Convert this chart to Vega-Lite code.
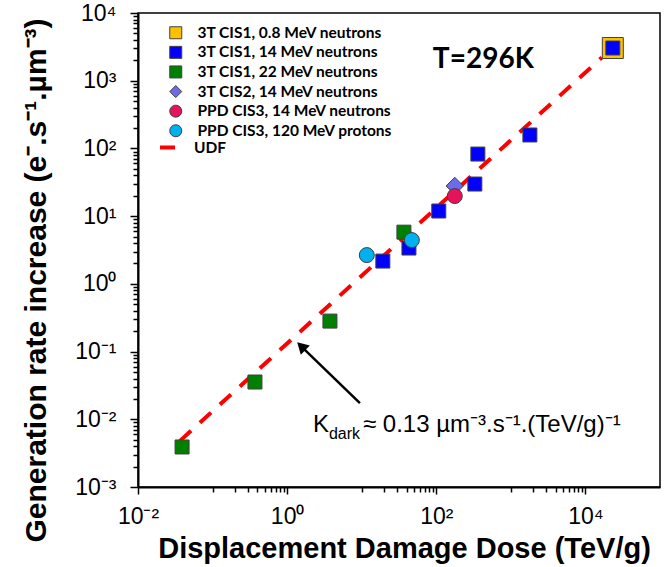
{
  "$schema": "https://vega.github.io/schema/vega-lite/v6.json",
  "width": 522,
  "height": 474,
  "autosize": {"type": "none"},
  "padding": {"left": 138, "top": 13, "right": 6, "bottom": 80},
  "background": "white",
  "config": {
    "font": "Liberation Sans",
    "view": {"stroke": "#000", "strokeWidth": 1.5},
    "axis": {"domainColor": "#000", "domainWidth": 2, "tickColor": "#000", "tickWidth": 1.5, "grid": false, "labelColor": "#000", "titleColor": "#000", "labelFont": "Liberation Sans", "titleFont": "Liberation Sans"}
  },
  "datasets": {
    "udf": [
      {"name": "UDF", "dose": 0.0365, "rate": 0.0048},
      {"name": "UDF", "dose": 16600, "rate": 2200}
    ],
    "pts": [
      {"series": "3T CIS1, 0.8 MeV neutrons", "dose": 23300, "rate": 3040},
      {"series": "3T CIS1, 14 MeV neutrons", "dose": 23300, "rate": 3040},
      {"series": "3T CIS1, 14 MeV neutrons", "dose": 1800, "rate": 158},
      {"series": "3T CIS1, 14 MeV neutrons", "dose": 361, "rate": 82.6},
      {"series": "3T CIS1, 14 MeV neutrons", "dose": 329, "rate": 29.8},
      {"series": "3T CIS1, 14 MeV neutrons", "dose": 108, "rate": 11.9},
      {"series": "3T CIS1, 14 MeV neutrons", "dose": 43, "rate": 3.38},
      {"series": "3T CIS1, 14 MeV neutrons", "dose": 19.2, "rate": 2.17},
      {"series": "3T CIS1, 22 MeV neutrons", "dose": 36.8, "rate": 5.8},
      {"series": "3T CIS1, 22 MeV neutrons", "dose": 3.75, "rate": 0.282},
      {"series": "3T CIS1, 22 MeV neutrons", "dose": 0.37, "rate": 0.0355},
      {"series": "3T CIS1, 22 MeV neutrons", "dose": 0.039, "rate": 0.0039},
      {"series": "3T CIS2, 14 MeV neutrons", "dose": 177, "rate": 27.9},
      {"series": "PPD CIS3, 14 MeV neutrons", "dose": 177, "rate": 19.8},
      {"series": "PPD CIS3, 120 MeV protons", "dose": 11.7, "rate": 2.66},
      {"series": "PPD CIS3, 120 MeV protons", "dose": 47, "rate": 4.43}
    ],
    "arrow": [
      {"dose": 9.46, "rate": 0.0173, "dose2": 1.546, "rate2": 0.1197}
    ],
    "head": [
      {"dose": 1.546, "rate": 0.1197}
    ],
    "temp": [
      {"dose": 90, "rate": 1540, "label": "T=296K"}
    ],
    "kdark": [
      {"dose": 2.22, "rate": 0.00647, "k": "K", "sub": "dark", "rest": "≈ 0.13 µm⁻³.s⁻¹.(TeV/g)⁻¹"}
    ]
  },
  "layer": [
    {
      "data": {"name": "udf"},
      "mark": {"type": "line", "color": "#FF0000", "strokeWidth": 4, "strokeCap": "butt"},
      "encoding": {
        "x": {
          "field": "dose", "type": "quantitative",
          "scale": {"type": "log", "domain": [0.01, 100000], "nice": false},
          "axis": {
            "title": "Displacement Damage Dose (TeV/g)",
            "titleFontSize": 29, "titleFontWeight": "bold",
            "titleX": 266, "titleY": 70, "titleBaseline": "alphabetic",
            "labelFontSize": 23, "labelPadding": 11,
            "labelFlush": false, "labelOverlap": false, "labelBound": false,
            "values": [0.01, 0.1, 0.2, 0.3, 0.4, 0.5, 0.6, 0.7, 0.8, 0.9, 1, 10, 20, 30, 40, 50, 60, 70, 80, 90, 100, 1000, 2000, 3000, 4000, 5000, 6000, 7000, 8000, 9000, 10000],
            "tickSize": {"condition": {"test": "datum.value == 0.01 || datum.value == 1 || datum.value == 100 || datum.value == 10000", "value": 7}, "value": 5},
            "labelExpr": "datum.value == 0.01 ? '10⁻²' : datum.value == 1 ? '10⁰' : datum.value == 100 ? '10²' : datum.value == 10000 ? '10⁴' : ''"
          }
        },
        "y": {
          "field": "rate", "type": "quantitative",
          "scale": {"type": "log", "domain": [0.001, 10000], "nice": false},
          "axis": {
            "title": "Generation rate increase (e⁻.s⁻¹.µm⁻³)",
            "titleFontSize": 30, "titleFontWeight": "bold",
            "titleX": -93, "titleY": 267, "titleBaseline": "alphabetic", "titleAngle": 270,
            "labelFontSize": 23, "labelPadding": 14,
            "labelOverlap": false, "labelBound": false, "labelFlush": false,
            "values": [0.001, 0.002, 0.003, 0.004, 0.005, 0.006, 0.007, 0.008, 0.009, 0.01, 0.02, 0.03, 0.04, 0.05, 0.06, 0.07, 0.08, 0.09, 0.1, 0.2, 0.3, 0.4, 0.5, 0.6, 0.7, 0.8, 0.9, 1, 2, 3, 4, 5, 6, 7, 8, 9, 10, 20, 30, 40, 50, 60, 70, 80, 90, 100, 200, 300, 400, 500, 600, 700, 800, 900, 1000, 2000, 3000, 4000, 5000, 6000, 7000, 8000, 9000, 10000],
            "tickSize": {"condition": {"test": "abs(log(datum.value)/LN10 - round(log(datum.value)/LN10)) < 0.001", "value": 8}, "value": 5},
            "labelExpr": "abs(log(datum.value)/LN10 - round(log(datum.value)/LN10)) < 0.001 ? ['10⁻³','10⁻²','10⁻¹','10⁰','10¹','10²','10³','10⁴'][round(log(datum.value)/LN10)+3] : ''"
          }
        },
        "strokeDash": {
          "field": "name", "type": "nominal",
          "scale": {"domain": ["UDF"], "range": [[15, 12]]},
          "legend": {
            "title": null, "orient": "none", "legendX": 20, "legendY": 123,
            "padding": 0, "labelOffset": 13, "symbolType": "stroke",
            "symbolSize": 361, "symbolStrokeWidth": 4, "symbolStrokeColor": "#FF0000",
            "labelFont": "Lato", "labelFontSize": 15.5, "labelFontWeight": "bold", "labelColor": "#000"
          }
        }
      }
    },
    {
      "data": {"name": "pts"},
      "transform": [{"filter": "datum.series === '3T CIS1, 0.8 MeV neutrons'"}],
      "mark": {"type": "point", "filled": true, "opacity": 1, "stroke": "#404040", "strokeWidth": 1, "size": 441},
      "encoding": {
        "x": {"field": "dose", "type": "quantitative"},
        "y": {"field": "rate", "type": "quantitative"},
        "color": {
          "field": "series", "type": "nominal",
          "scale": {
            "domain": ["3T CIS1, 0.8 MeV neutrons", "3T CIS1, 14 MeV neutrons", "3T CIS1, 22 MeV neutrons", "3T CIS2, 14 MeV neutrons", "PPD CIS3, 14 MeV neutrons", "PPD CIS3, 120 MeV protons"],
            "range": ["#FFC000", "#0000FF", "#008000", "#6B6BEB", "#E8115B", "#00B0F0"]
          },
          "legend": {
            "title": null, "orient": "none", "legendX": 30, "legendY": 12,
            "padding": 0, "rowPadding": 1.6, "labelOffset": 14,
            "symbolSize": 144, "symbolStrokeWidth": 1, "symbolStrokeColor": "#404040",
            "labelFont": "Lato", "labelFontSize": 15.5, "labelFontWeight": "bold", "labelColor": "#000", "labelLimit": 400
          }
        },
        "shape": {
          "field": "series", "type": "nominal",
          "scale": {
            "domain": ["3T CIS1, 0.8 MeV neutrons", "3T CIS1, 14 MeV neutrons", "3T CIS1, 22 MeV neutrons", "3T CIS2, 14 MeV neutrons", "PPD CIS3, 14 MeV neutrons", "PPD CIS3, 120 MeV protons"],
            "range": ["square", "square", "square", "diamond", "circle", "circle"]
          }
        }
      }
    },
    {
      "data": {"name": "pts"},
      "transform": [{"filter": "datum.series === '3T CIS1, 14 MeV neutrons' || datum.series === '3T CIS1, 22 MeV neutrons'"}],
      "mark": {"type": "point", "filled": true, "opacity": 1, "stroke": "#404040", "strokeWidth": 1, "size": 196},
      "encoding": {
        "x": {"field": "dose", "type": "quantitative"},
        "y": {"field": "rate", "type": "quantitative"},
        "color": {"field": "series", "type": "nominal"},
        "shape": {"field": "series", "type": "nominal"}
      }
    },
    {
      "data": {"name": "pts"},
      "transform": [{"filter": "datum.series === '3T CIS2, 14 MeV neutrons'"}],
      "mark": {"type": "point", "filled": true, "opacity": 1, "stroke": "#404040", "strokeWidth": 1, "size": 300},
      "encoding": {
        "x": {"field": "dose", "type": "quantitative"},
        "y": {"field": "rate", "type": "quantitative"},
        "color": {"field": "series", "type": "nominal"},
        "shape": {"field": "series", "type": "nominal"}
      }
    },
    {
      "data": {"name": "pts"},
      "transform": [{"filter": "datum.series === 'PPD CIS3, 14 MeV neutrons' || datum.series === 'PPD CIS3, 120 MeV protons'"}],
      "mark": {"type": "point", "filled": true, "opacity": 1, "stroke": "#404040", "strokeWidth": 1, "size": 225},
      "encoding": {
        "x": {"field": "dose", "type": "quantitative"},
        "y": {"field": "rate", "type": "quantitative"},
        "color": {"field": "series", "type": "nominal"},
        "shape": {"field": "series", "type": "nominal"}
      }
    },
    {
      "data": {"name": "arrow"},
      "mark": {"type": "rule", "color": "#000", "strokeWidth": 2.5},
      "encoding": {
        "x": {"field": "dose", "type": "quantitative"},
        "y": {"field": "rate", "type": "quantitative"},
        "x2": {"field": "dose2"},
        "y2": {"field": "rate2"}
      }
    },
    {
      "data": {"name": "head"},
      "mark": {"type": "point", "shape": "triangle-up", "filled": true, "opacity": 1, "color": "#000", "size": 169, "angle": -46},
      "encoding": {
        "x": {"field": "dose", "type": "quantitative"},
        "y": {"field": "rate", "type": "quantitative"}
      }
    },
    {
      "data": {"name": "temp"},
      "mark": {"type": "text", "font": "Lato", "fontWeight": "bold", "fontSize": 28, "align": "left", "baseline": "alphabetic", "color": "#000"},
      "encoding": {
        "x": {"field": "dose", "type": "quantitative"},
        "y": {"field": "rate", "type": "quantitative"},
        "text": {"field": "label"}
      }
    },
    {
      "data": {"name": "kdark"},
      "mark": {"type": "text", "fontSize": 24, "align": "left", "baseline": "alphabetic", "color": "#000"},
      "encoding": {
        "x": {"field": "dose", "type": "quantitative"},
        "y": {"field": "rate", "type": "quantitative"},
        "text": {"field": "k"}
      }
    },
    {
      "data": {"name": "kdark"},
      "mark": {"type": "text", "fontSize": 16, "align": "left", "baseline": "alphabetic", "color": "#000", "dx": 16, "dy": 7},
      "encoding": {
        "x": {"field": "dose", "type": "quantitative"},
        "y": {"field": "rate", "type": "quantitative"},
        "text": {"field": "sub"}
      }
    },
    {
      "data": {"name": "kdark"},
      "mark": {"type": "text", "fontSize": 24, "align": "left", "baseline": "alphabetic", "color": "#000", "dx": 50},
      "encoding": {
        "x": {"field": "dose", "type": "quantitative"},
        "y": {"field": "rate", "type": "quantitative"},
        "text": {"field": "rest"}
      }
    }
  ]
}
